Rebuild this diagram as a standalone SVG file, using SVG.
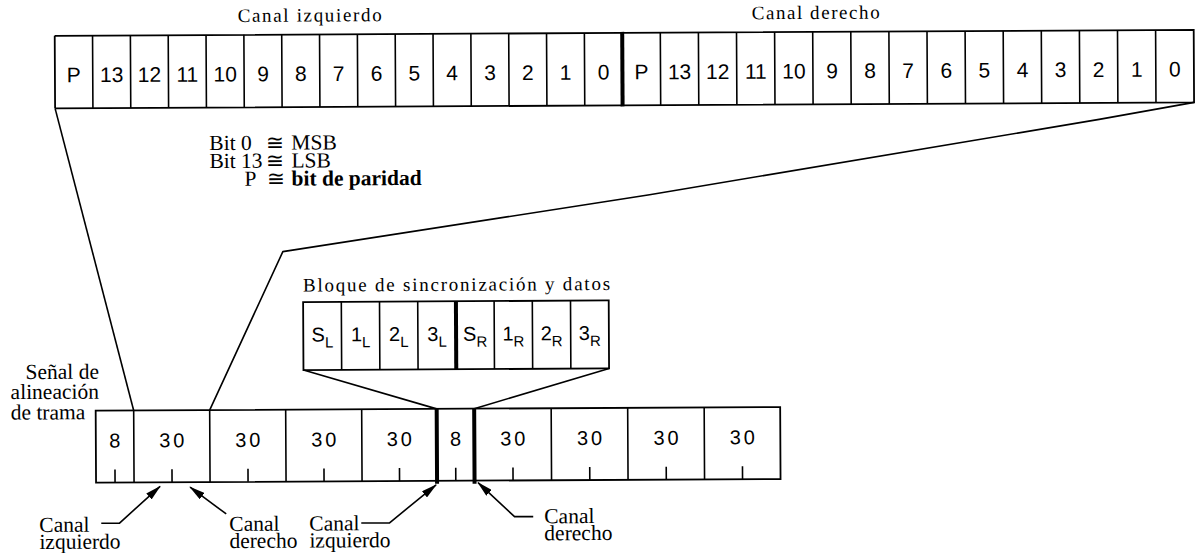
<svg xmlns="http://www.w3.org/2000/svg" width="1196" height="553" viewBox="0 0 1196 553">
  <defs>
    <style>
      .box { fill: none; stroke: #000; stroke-width: 1.8; }
      .sep { stroke: #000; stroke-width: 1.6; }
      .thick { stroke: #000; stroke-width: 4; }
      .lead { fill: none; stroke: #000; stroke-width: 1.6; stroke-linejoin: round; }
      .tick { stroke: #000; stroke-width: 1.6; }
      .num { font-family: "Liberation Sans", Arial, sans-serif; font-size: 21px; text-anchor: middle; fill: #000; }
      .cnt { font-family: "Liberation Sans", Arial, sans-serif; font-size: 20px; text-anchor: middle; letter-spacing: 3px; fill: #000; }
      .sym { font-family: "Liberation Sans", Arial, sans-serif; font-size: 20px; text-anchor: middle; fill: #000; }
      .sub { font-size: 15px; }
      .lbl { font-family: "Liberation Serif", "Times New Roman", serif; font-size: 19px; fill: #000; }
      .cap { font-family: "Liberation Serif", "Times New Roman", serif; font-size: 21.5px; fill: #000; }
      .bold { font-weight: bold; }
    </style>
    <marker id="head" viewBox="0 0 16 8" refX="15" refY="4" markerWidth="16" markerHeight="8" markerUnits="userSpaceOnUse" orient="auto">
      <path d="M0,0 L16,4 L0,8 Z" fill="#000"/>
    </marker>
  </defs>

  <g transform="rotate(-0.3 600 280)">
    <!-- 16-bit word, left channel -->
    <g id="word-left">
      <text class="lbl" x="239" y="20" textLength="144" lengthAdjust="spacing">Canal izquierdo</text>
      <path class="box" d="M56,33 H623.5 M56,105.5 H623.5 M56,33 V105.5"/>
      <path class="sep" d="M93.83,33V105.5 M131.67,33V105.5 M169.5,33V105.5 M207.33,33V105.5 M245.17,33V105.5 M283,33V105.5 M320.83,33V105.5 M358.67,33V105.5 M396.5,33V105.5 M434.33,33V105.5 M472.17,33V105.5 M510,33V105.5 M547.83,33V105.5 M585.67,33V105.5"/>
      <g class="num">
        <text x="74.9" y="79.5">P</text>
        <text x="112.75" y="79.5">13</text>
        <text x="150.6" y="79.5">12</text>
        <text x="188.4" y="79.5">11</text>
        <text x="226.25" y="79.5">10</text>
        <text x="264.1" y="79.5">9</text>
        <text x="301.9" y="79.5">8</text>
        <text x="339.75" y="79.5">7</text>
        <text x="377.6" y="79.5">6</text>
        <text x="415.4" y="79.5">5</text>
        <text x="453.25" y="79.5">4</text>
        <text x="491.1" y="79.5">3</text>
        <text x="528.9" y="79.5">2</text>
        <text x="566.75" y="79.5">1</text>
        <text x="604.6" y="79.5">0</text>
      </g>
    </g>

    <!-- 16-bit word, right channel -->
    <g id="word-right">
      <text class="lbl" x="753" y="20" textLength="128" lengthAdjust="spacing">Canal derecho</text>
      <path class="box" d="M623.5,33 H1195 V105.5 H623.5"/>
      <path class="thick" d="M623.5,32 V106.5"/>
      <path class="sep" d="M661.6,33V105.5 M699.7,33V105.5 M737.8,33V105.5 M775.9,33V105.5 M814,33V105.5 M852.1,33V105.5 M890.2,33V105.5 M928.3,33V105.5 M966.4,33V105.5 M1004.5,33V105.5 M1042.6,33V105.5 M1080.7,33V105.5 M1118.8,33V105.5 M1156.9,33V105.5"/>
      <g class="num">
        <text x="642.55" y="79.5">P</text>
        <text x="680.65" y="79.5">13</text>
        <text x="718.75" y="79.5">12</text>
        <text x="756.85" y="79.5">11</text>
        <text x="794.95" y="79.5">10</text>
        <text x="833.05" y="79.5">9</text>
        <text x="871.15" y="79.5">8</text>
        <text x="909.25" y="79.5">7</text>
        <text x="947.35" y="79.5">6</text>
        <text x="985.45" y="79.5">5</text>
        <text x="1023.55" y="79.5">4</text>
        <text x="1061.65" y="79.5">3</text>
        <text x="1099.75" y="79.5">2</text>
        <text x="1137.85" y="79.5">1</text>
        <text x="1175.95" y="79.5">0</text>
      </g>
    </g>

    <!-- bit legend -->
    <g id="legend">
      <text class="cap" x="210" y="148">Bit 0</text>
      <text class="cap" x="267" y="148">≅</text>
      <text class="cap" x="292" y="148">MSB</text>
      <text class="cap" x="210" y="166">Bit 13</text>
      <text class="cap" x="267" y="166">≅</text>
      <text class="cap" x="292" y="166">LSB</text>
      <text class="cap" x="245" y="184">P</text>
      <text class="cap" x="267" y="184">≅</text>
      <text class="cap bold" x="292" y="184">bit de paridad</text>
    </g>

    <!-- sync and data block -->
    <g id="sync-block">
      <text class="lbl" x="303" y="290" textLength="307" lengthAdjust="spacing">Bloque de sincronización y datos</text>
      <path class="box" d="M303,300.5 H608.6 V368.5 H303 Z"/>
      <path class="sep" d="M341.2,300.5V368.5 M379.4,300.5V368.5 M417.6,300.5V368.5 M494,300.5V368.5 M532.2,300.5V368.5 M570.4,300.5V368.5"/>
      <path class="thick" d="M455.8,300.5 V368.5"/>
      <g class="sym">
        <text x="322.1" y="340">S<tspan class="sub" dy="6">L</tspan></text>
        <text x="360.3" y="340">1<tspan class="sub" dy="6">L</tspan></text>
        <text x="398.5" y="340">2<tspan class="sub" dy="6">L</tspan></text>
        <text x="436.7" y="340">3<tspan class="sub" dy="6">L</tspan></text>
        <text x="474.9" y="340">S<tspan class="sub" dy="6">R</tspan></text>
        <text x="513.1" y="340">1<tspan class="sub" dy="6">R</tspan></text>
        <text x="551.3" y="340">2<tspan class="sub" dy="6">R</tspan></text>
        <text x="589.5" y="340">3<tspan class="sub" dy="6">R</tspan></text>
      </g>
    </g>

    <!-- frame of counts -->
    <g id="frame">
      <text class="cap" x="25" y="376">Señal de</text>
      <text class="cap" x="10" y="396">alineación</text>
      <text class="cap" x="10" y="416.5">de trama</text>
      <path class="box" d="M95,408 H779.5 V480 H95 Z"/>
      <path class="sep" d="M133,408V480 M209,408V480 M285,408V480 M361,408V480 M550.5,408V480 M627,408V480 M703.5,408V480"/>
      <path class="thick" d="M436,408 V483 M473.5,408 V483"/>
      <path class="tick" d="M114,467V480 M171,467V480 M247,467V480 M323,467V480 M398.5,467V480 M454.75,467V480 M512,467V480 M588.75,467V480 M665.25,467V480 M741.5,467V480"/>
      <g class="cnt">
        <text x="115.5" y="445">8</text>
        <text x="172.5" y="445">30</text>
        <text x="248.5" y="445">30</text>
        <text x="324.5" y="445">30</text>
        <text x="400" y="445">30</text>
        <text x="456.25" y="445">8</text>
        <text x="513.5" y="445">30</text>
        <text x="590.25" y="445">30</text>
        <text x="666.75" y="445">30</text>
        <text x="743" y="445">30</text>
      </g>
    </g>

    <!-- expansion lines and pointers -->
    <g id="connectors">
      <path class="lead" d="M56,105.5 L133,408"/>
      <path class="lead" d="M1195,105.5 L1100,122 L650,195 L283,250 L209,408"/>
      <path class="lead" d="M303,368.5 L436,408"/>
      <path class="lead" d="M608.6,368.5 L473.5,408"/>
      <path class="lead" d="M100,520.7 L118,520.8 L159,484" marker-end="url(#head)"/>
      <path class="lead" d="M225,512 L189,485" marker-end="url(#head)"/>
      <path class="lead" d="M360,521.7 L388,521.9 L435,484" marker-end="url(#head)"/>
      <path class="lead" d="M532,516.3 L513.3,516.2 L477,482" marker-end="url(#head)"/>
    </g>

    <!-- pointer captions -->
    <g id="captions">
      <text class="cap" x="38" y="529">Canal</text>
      <text class="cap" x="38" y="546">izquierdo</text>
      <text class="cap" x="228" y="529">Canal</text>
      <text class="cap" x="228" y="546">derecho</text>
      <text class="cap" x="308" y="529">Canal</text>
      <text class="cap" x="308" y="546">izquierdo</text>
      <text class="cap" x="543" y="523">Canal</text>
      <text class="cap" x="543" y="540">derecho</text>
    </g>
  </g>
</svg>
